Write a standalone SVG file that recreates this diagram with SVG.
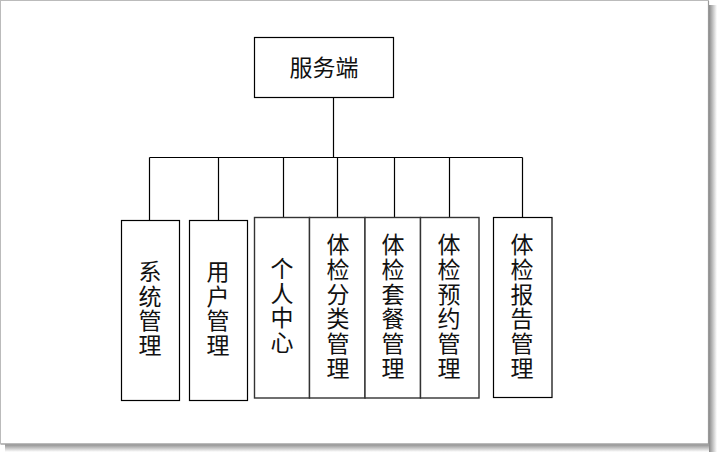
<svg xmlns="http://www.w3.org/2000/svg" width="718" height="454" viewBox="0 0 718 454">
<defs>
<linearGradient id="shR" x1="0" y1="0" x2="1" y2="0">
<stop offset="0" stop-color="#8a8a8a"/>
<stop offset="1" stop-color="#ffffff"/>
</linearGradient>
<linearGradient id="shB" x1="0" y1="0" x2="0" y2="1">
<stop offset="0" stop-color="#8a8a8a"/>
<stop offset="1" stop-color="#ffffff"/>
</linearGradient>
</defs>
<style>
.box{fill:#fff;stroke:#000;stroke-width:1.2}
.gbox{fill:#fff;stroke:#333;stroke-width:1.4}
.lbl{font-family:"Noto Sans CJK SC","Noto Sans CJK JP",sans-serif;font-size:23px;fill:#111;text-anchor:middle}
.conn{fill:none;stroke:#000;stroke-width:1.2}
</style>
<rect x="0" y="0" width="718" height="454" fill="#fff"/>
<rect x="709" y="5" width="8" height="447" fill="url(#shR)"/>
<rect x="5" y="444" width="704" height="8" fill="url(#shB)"/>
<rect x="0.5" y="0.5" width="708" height="443.5" fill="#fff" stroke="#bbb" stroke-width="1"/>
<line x1="708.5" y1="1" x2="708.5" y2="444" stroke="#999" stroke-width="1.2"/>
<line x1="1" y1="444" x2="709" y2="444" stroke="#999" stroke-width="1.2"/>

<g id="connectors">
<path class="conn" d="M333.5 97 V157.5"/>
<path class="conn" d="M149.5 157.5 H522.5"/>
<path class="conn" d="M149.5 157.5 V220"/>
<path class="conn" d="M218.5 157.5 V220"/>
<path class="conn" d="M283.5 157.5 V217"/>
<path class="conn" d="M337.5 157.5 V217"/>
<path class="conn" d="M394.5 157.5 V217"/>
<path class="conn" d="M449.5 157.5 V217"/>
<path class="conn" d="M522.5 157.5 V217"/>
</g>

<g id="server">
<rect class="box" x="254.5" y="37.5" width="139" height="60"/>
<text class="lbl" x="324" y="76">服务端</text>
</g>

<g id="sys">
<rect class="box" x="121.5" y="220.5" width="58" height="180"/>
<text class="lbl"><tspan x="150" y="280">系</tspan><tspan x="150" y="304.5">统</tspan><tspan x="150" y="329">管</tspan><tspan x="150" y="353.5">理</tspan></text>
</g>

<g id="user">
<rect class="box" x="189.5" y="220.5" width="58" height="180"/>
<text class="lbl"><tspan x="218" y="280">用</tspan><tspan x="218" y="304.5">户</tspan><tspan x="218" y="329">管</tspan><tspan x="218" y="353.5">理</tspan></text>
</g>

<g id="personal">
<rect class="gbox" x="254.5" y="217.5" width="55" height="180.5"/>
<text class="lbl"><tspan x="282" y="277">个</tspan><tspan x="282" y="301.5">人</tspan><tspan x="282" y="326">中</tspan><tspan x="282" y="350.5">心</tspan></text>
</g>

<g id="category">
<rect class="gbox" x="309.5" y="217.5" width="55.5" height="180.5"/>
<text class="lbl"><tspan x="338" y="253">体</tspan><tspan x="338" y="277.8">检</tspan><tspan x="338" y="302.6">分</tspan><tspan x="338" y="327.4">类</tspan><tspan x="338" y="352.2">管</tspan><tspan x="338" y="377">理</tspan></text>
</g>

<g id="package">
<rect class="gbox" x="365" y="217.5" width="55.5" height="180.5"/>
<text class="lbl"><tspan x="393" y="253">体</tspan><tspan x="393" y="277.8">检</tspan><tspan x="393" y="302.6">套</tspan><tspan x="393" y="327.4">餐</tspan><tspan x="393" y="352.2">管</tspan><tspan x="393" y="377">理</tspan></text>
</g>

<g id="booking">
<rect class="gbox" x="420.5" y="217.5" width="58.5" height="180.5"/>
<text class="lbl"><tspan x="449" y="253">体</tspan><tspan x="449" y="277.8">检</tspan><tspan x="449" y="302.6">预</tspan><tspan x="449" y="327.4">约</tspan><tspan x="449" y="352.2">管</tspan><tspan x="449" y="377">理</tspan></text>
</g>

<g id="report">
<rect class="box" x="493.5" y="217.5" width="58.5" height="180"/>
<text class="lbl"><tspan x="522" y="253">体</tspan><tspan x="522" y="277.8">检</tspan><tspan x="522" y="302.6">报</tspan><tspan x="522" y="327.4">告</tspan><tspan x="522" y="352.2">管</tspan><tspan x="522" y="377">理</tspan></text>
</g>
</svg>
